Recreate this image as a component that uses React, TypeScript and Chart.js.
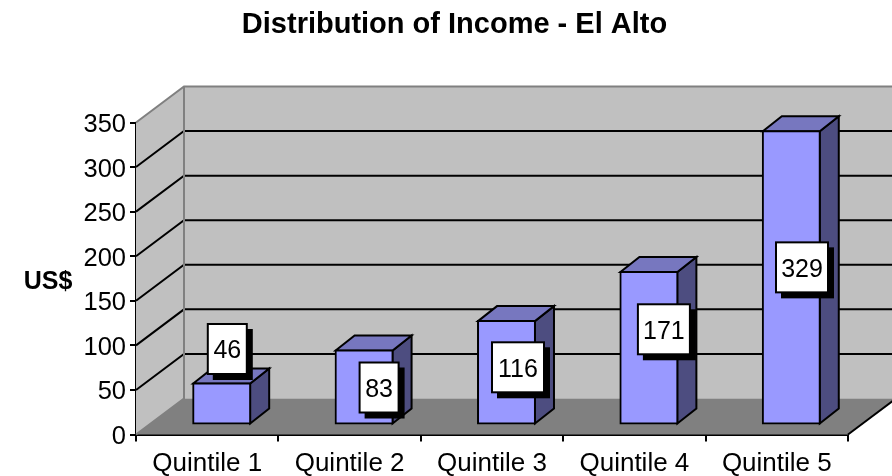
import { useEffect, useRef } from "react";
import { Chart, registerables } from "chart.js";

Chart.register(...registerables);

const categories = ["Quintile 1", "Quintile 2", "Quintile 3", "Quintile 4", "Quintile 5"];
const incomeValues = [46, 83, 116, 171, 329];
const titleText = "Distribution of Income - El Alto";
const yAxisLabel = "US$";
const yMax = 350;
const yStep = 50;

const font = '"Liberation Sans", Arial, sans-serif';
const FRONT = "#9999FF";
const TOP = "#7777BF";
const SIDE = "#4D4D80";
const WALL = "#C0C0C0";
const FLOOR = "#808080";

// projection of the chart's depth
const WALL_DX = 48;
const WALL_DY = -36;
const BAR_SHIFT_X = 14.5;
const BAR_SHIFT_Y = -10;
const BAR_DX = 19;
const BAR_DY = -15;
// hand-placed data label offsets from the middle of each bar's front face
const labelOffsets = [
  [5.6, -54.5],
  [15, 0.5],
  [11.5, -5],
  [15, -18.5],
  [10.7, -10],
];

const poly = (ctx: CanvasRenderingContext2D, pts: number[][]) => {
  ctx.beginPath();
  pts.forEach((p, i) => (i ? ctx.lineTo(p[0], p[1]) : ctx.moveTo(p[0], p[1])));
  ctx.closePath();
};

const walls3d = {
  id: "walls3d",
  beforeDatasetsDraw(chart: any) {
    const { ctx, chartArea: a, scales } = chart;
    const { left: l, right: r, top: t, bottom: b } = a;
    const dx = WALL_DX;
    const dy = WALL_DY;
    ctx.save();
    // back wall
    ctx.fillStyle = WALL;
    ctx.fillRect(l + dx, t + dy, r - l, b - t);
    // left wall
    poly(ctx, [[l, t], [l + dx, t + dy], [l + dx, b + dy], [l, b]]);
    ctx.fill();
    // floor
    ctx.fillStyle = FLOOR;
    poly(ctx, [[l, b], [r, b], [r + dx, b + dy], [l + dx, b + dy]]);
    ctx.fill();
    // grid lines along both walls
    ctx.strokeStyle = "#000";
    ctx.lineWidth = 2;
    scales.y.ticks.forEach((tk: any) => {
      if (tk.value === 0 || tk.value === yMax) return;
      const py = scales.y.getPixelForValue(tk.value);
      ctx.beginPath();
      ctx.moveTo(l, py);
      ctx.lineTo(l + dx, py + dy);
      ctx.lineTo(r + dx, py + dy);
      ctx.stroke();
    });
    // wall edges
    ctx.strokeStyle = FLOOR;
    ctx.beginPath();
    ctx.moveTo(l, t);
    ctx.lineTo(l + dx, t + dy);
    ctx.lineTo(r + dx, t + dy);
    ctx.moveTo(l + dx, t + dy);
    ctx.lineTo(l + dx, b + dy);
    ctx.lineTo(l, b);
    ctx.stroke();
    // floor's right edge
    ctx.strokeStyle = "#000";
    ctx.beginPath();
    ctx.moveTo(r, b);
    ctx.lineTo(r + dx, b + dy);
    ctx.stroke();
    ctx.restore();

    // bar depth faces; bars stand in the middle of the floor's depth
    ctx.save();
    ctx.translate(BAR_SHIFT_X, BAR_SHIFT_Y);
    ctx.lineWidth = 2;
    ctx.strokeStyle = "#000";
    ctx.lineJoin = "miter";
    chart.getDatasetMeta(0).data.forEach((bar: any) => {
      const x0 = bar.x - bar.width / 2;
      const x1 = bar.x + bar.width / 2;
      ctx.fillStyle = SIDE;
      poly(ctx, [[x1, bar.y], [x1 + BAR_DX, bar.y + BAR_DY], [x1 + BAR_DX, bar.base + BAR_DY], [x1, bar.base]]);
      ctx.fill();
      ctx.stroke();
      ctx.fillStyle = TOP;
      poly(ctx, [[x0, bar.y], [x0 + BAR_DX, bar.y + BAR_DY], [x1 + BAR_DX, bar.y + BAR_DY], [x1, bar.y]]);
      ctx.fill();
      ctx.stroke();
    });
    // left active for the bars, undone in afterDatasetsDraw
  },
  afterDatasetsDraw(chart: any) {
    const { ctx } = chart;
    ctx.restore();
    // data labels
    ctx.save();
    ctx.font = `25px ${font}`;
    ctx.textAlign = "center";
    ctx.textBaseline = "middle";
    chart.getDatasetMeta(0).data.forEach((bar: any, i: number) => {
      const text = String(incomeValues[i]);
      const w = text.length > 2 ? 52 : 39;
      const h = 50;
      const cx = bar.x + BAR_SHIFT_X + labelOffsets[i][0];
      const cy = (bar.y + bar.base) / 2 + BAR_SHIFT_Y + labelOffsets[i][1];
      ctx.fillStyle = "#000";
      ctx.fillRect(cx - w / 2 + 5, cy - h / 2 + 5, w + 1, h + 1);
      ctx.fillStyle = "#fff";
      ctx.fillRect(cx - w / 2, cy - h / 2, w, h);
      ctx.strokeStyle = "#000";
      ctx.lineWidth = 2;
      ctx.strokeRect(cx - w / 2, cy - h / 2, w, h);
      ctx.fillStyle = "#000";
      ctx.fillText(text, cx, cy + 2.5);
    });
    // horizontal axis title
    ctx.font = `bold 25px ${font}`;
    ctx.textAlign = "center";
    ctx.fillText(yAxisLabel, 48, 282);
    ctx.restore();
  },
};

export default function App() {
  const ref = useRef<HTMLCanvasElement>(null);
  useEffect(() => {
    document.body.style.margin = "0";
    const chart = new Chart(ref.current as HTMLCanvasElement, {
      type: "bar",
      data: {
        labels: categories,
        datasets: [
          {
            data: incomeValues,
            backgroundColor: FRONT,
            borderColor: "#000",
            borderWidth: 2,
            borderSkipped: false,
            inflateAmount: 1,
            barPercentage: 0.4,
            categoryPercentage: 1,
            clip: false,
          } as any,
        ],
      },
      options: {
        animation: false,
        responsive: false,
        layout: { padding: { left: 61, right: 44, top: 0, bottom: 0 } },
        plugins: {
          legend: { display: false },
          tooltip: { enabled: false },
          title: {
            display: true,
            text: titleText,
            color: "#000",
            font: { family: font, size: 29, weight: "bold" },
            padding: { top: 7.5, bottom: 80.2 },
          },
        },
        scales: {
          x: {
            afterFit(s: any) {
              s.height = 41.5;
            },
            border: { color: "#000", width: 2 },
            grid: { drawOnChartArea: false, color: "#000", tickColor: "#000", tickLength: 7, lineWidth: 2 },
            ticks: { color: "#000", font: { family: font, size: 26 }, padding: 7, maxRotation: 0 },
          },
          y: {
            min: 0,
            max: yMax,
            afterFit(s: any) {
              s.width = 75;
            },
            border: { color: "#000", width: 2 },
            grid: { drawOnChartArea: false, color: "#000", tickColor: "#000", tickLength: 6, lineWidth: 2 },
            ticks: { stepSize: yStep, color: "#000", font: { family: font, size: 25.5 }, padding: 4, labelOffset: 2.5 },
          },
        },
      },
      plugins: [walls3d as any],
    });
    return () => chart.destroy();
  }, []);
  return <canvas ref={ref} width={892} height={476} style={{ display: "block" }} />;
}
